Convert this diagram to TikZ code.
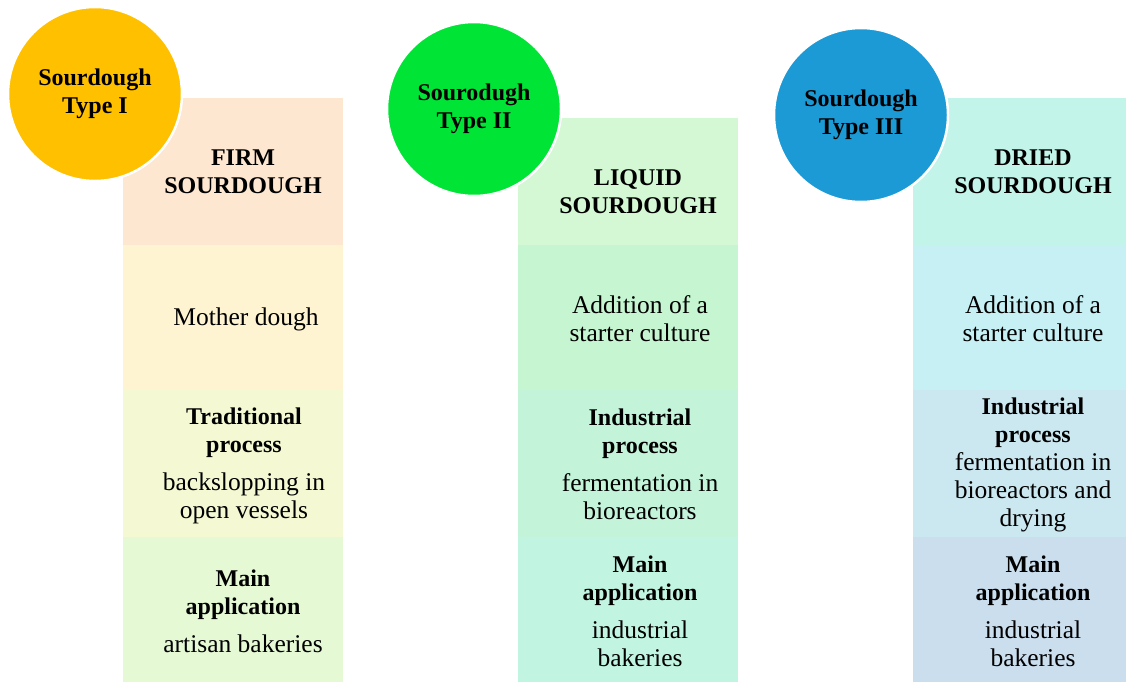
\documentclass[tikz,border=0pt]{standalone}
\usepackage{fontspec}
\setmainfont{Liberation Serif}
\usepackage{tikz}
\usetikzlibrary{positioning}
\definecolor{typeone}{HTML}{FFC000}
\definecolor{typetwo}{HTML}{00E436}
\definecolor{typethree}{HTML}{1B9AD6}
\definecolor{firmA}{HTML}{FDE7D0}
\definecolor{firmB}{HTML}{FEF4D2}
\definecolor{firmC}{HTML}{F4F9D3}
\definecolor{firmD}{HTML}{E4F9D4}
\definecolor{liqA}{HTML}{D4F8D4}
\definecolor{liqB}{HTML}{C6F6D1}
\definecolor{liqC}{HTML}{C3F4DA}
\definecolor{liqD}{HTML}{C2F4E2}
\definecolor{dryA}{HTML}{C2F4E9}
\definecolor{dryB}{HTML}{C6F0F4}
\definecolor{dryC}{HTML}{CBE7F0}
\definecolor{dryD}{HTML}{CADEEE}
\newcommand{\hd}[1]{{\fontsize{24}{28}\selectfont\bfseries #1}}
\tikzstyle{cellbox}=[rectangle,draw=none,inner sep=0pt,outer sep=0pt,
minimum width=220pt]
\tikzstyle{typecircle}=[circle,draw=white,line width=2.5pt,minimum size=174pt,
inner sep=0pt,align=center,font=\fontsize{24}{28}\selectfont\bfseries]
\tikzstyle{textbox}=[rectangle,inner sep=0pt,align=center,
font=\fontsize{25.5}{28}\selectfont]

\begin{document}
\begin{tikzpicture}[x=1pt,y=-1pt]
    \useasboundingbox (0,0) rectangle (1126,682);
    % column I
    \node[cellbox, fill=firmA, minimum height=147pt] (firm) at (233,171.5) {};
    \node[cellbox, fill=firmB, minimum height=145pt] (mother) at (233,317.5) {};
    \node[cellbox, fill=firmC, minimum height=147pt] (trad) at (233,463.5) {};
    \node[cellbox, fill=firmD, minimum height=145pt] (artisan) at (233,609.5) {};
    % column II
    \node[cellbox, fill=liqA, minimum height=127pt] (liquid) at (628,181.5) {};
    \node[cellbox, fill=liqB, minimum height=145pt] (starterII) at (628,317.5) {};
    \node[cellbox, fill=liqC, minimum height=147pt] (indII) at (628,463.5) {};
    \node[cellbox, fill=liqD, minimum height=145pt] (bakII) at (628,609.5) {};
    % column III
    \node[cellbox, fill=dryA, minimum width=213pt, minimum height=147pt] (dried) at (1019.5,171.5) {};
    \node[cellbox, fill=dryB, minimum width=213pt, minimum height=145pt] (starterIII) at (1019.5,317.5) {};
    \node[cellbox, fill=dryC, minimum width=213pt, minimum height=147pt] (indIII) at (1019.5,463.5) {};
    \node[cellbox, fill=dryD, minimum width=213pt, minimum height=145pt] (bakIII) at (1019.5,609.5) {};

    % texts
    \node[textbox] (firmtxt) at (243,172) {\hd{FIRM}\\\hd{SOURDOUGH}};
    \node[textbox] (mothertxt) at (246,319) {Mother dough};
    \node[textbox] (tradtxt) at (244,465.5) {\hd{Traditional}\\\hd{process}\\[10pt]
        backslopping in\\open vessels};
    \node[textbox] (artisantxt) at (243,611) {\hd{Main}\\\hd{application}\\[10pt]
        artisan bakeries};

    \node[textbox] (liquidtxt) at (638,191.5) {\hd{LIQUID}\\\hd{SOURDOUGH}};
    \node[textbox] (starterIItxt) at (640,319) {Addition of a\\starter culture};
    \node[textbox] (indIItxt) at (640,464) {\hd{Industrial}\\\hd{process}\\[10pt]
        fermentation in\\bioreactors};
    \node[textbox] (bakIItxt) at (640,611.5) {\hd{Main}\\\hd{application}\\[10pt]
        industrial\\bakeries};

    \node[textbox] (driedtxt) at (1033,172) {\hd{DRIED}\\\hd{SOURDOUGH}};
    \node[textbox] (starterIIItxt) at (1033,319) {Addition of a\\starter culture};
    \node[textbox] (indIIItxt) at (1033,465) {\hd{Industrial}\\\hd{process}\\
        fermentation in\\bioreactors and\\drying};
    \node[textbox] (bakIIItxt) at (1033,611.5) {\hd{Main}\\\hd{application}\\[10pt]
        industrial\\bakeries};

    % type circles
    \node[typecircle, fill=typeone] (typeI) at (95,94) {Sourdough\\Type I};
    \node[typecircle, fill=typetwo] (typeII) at (474,109) {Sourodugh\\Type II};
    \node[typecircle, fill=typethree] (typeIII) at (861,115) {Sourdough\\Type III};
\end{tikzpicture}
\end{document}
